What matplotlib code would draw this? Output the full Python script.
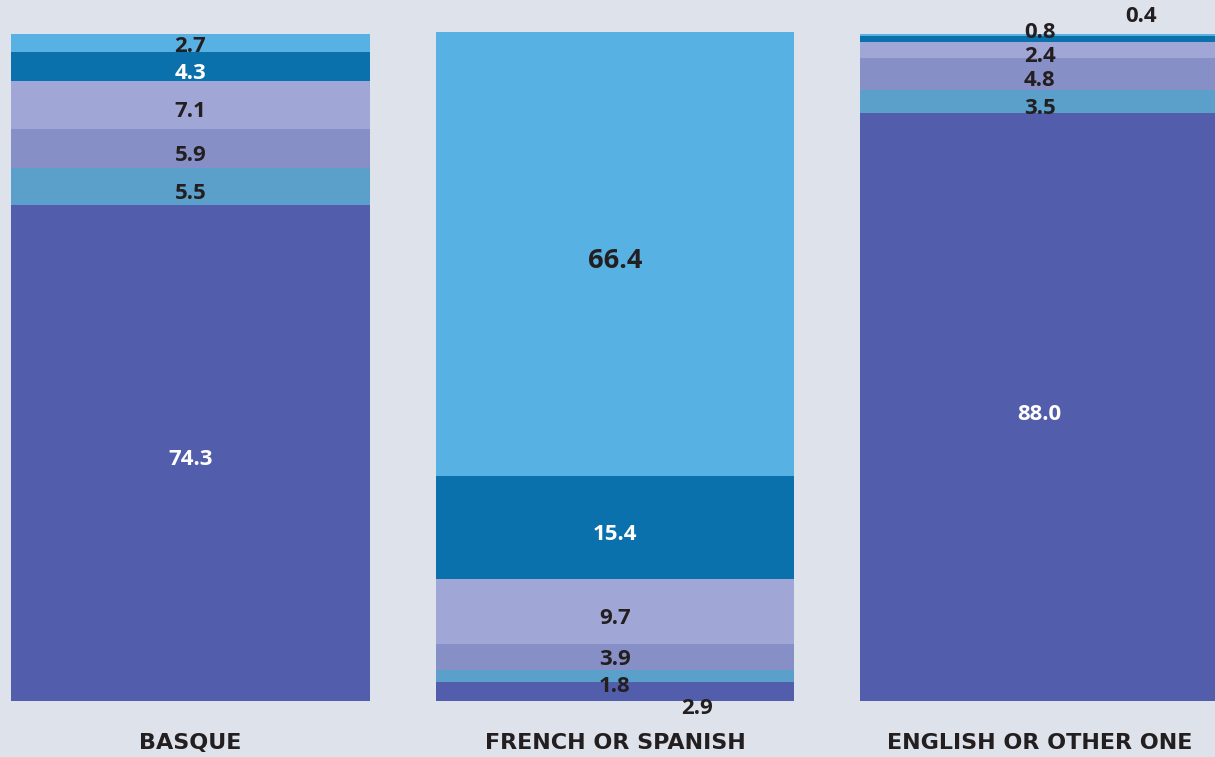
import numpy as np
import matplotlib as mpl
mpl.use("Agg")
import matplotlib.pyplot as plt

mpl.rcParams.update({"font.family": ["Open Sans", "DejaVu Sans"], "font.weight": "bold"})

# data (bottom -> top)
groups = ["BASQUE", "FRENCH OR SPANISH", "ENGLISH OR OTHER ONE"]
seg_cols = ["#525dab", "#5ba0cb", "#868fc6", "#a0a6d5", "#0a71ad", "#58b1e3"]
basque = [74.3, 5.5, 5.9, 7.1, 4.3, 2.7]
french = [2.9, 1.8, 3.9, 9.7, 15.4, 66.4]
english = [88.0, 3.5, 4.8, 2.4, 0.8, 0.4]
labels = [["74.3", "5.5", "5.9", "7.1", "4.3", "2.7"],
          ["2.9", "1.8", "3.9", "9.7", "15.4", "66.4"],
          ["88.0", "3.5", "4.8", "2.4", "0.8", "0.4"]]
white_lab = {(0, 0), (0, 4), (1, 4), (2, 0)}
# labels pushed outside the bar / nudged: (dx, dy) in points
moved = {(1, 0): (59, -12), (2, 5): (73, 13), (2, 4): (0, 5), (0, 5): (0, -2),
         (2, 3): (0, -5), (1, 1): (0, -8), (1, 2): (0, -2)}
big = {(1, 5)}

BG = "#dee2ea"
fig = plt.figure(figsize=(12.15, 7.57), dpi=100, facecolor=BG)
ax = fig.add_axes([0, 0, 1, 1])
ax.set_facecolor(BG)
ax.axis("off")

data = np.array([basque, french, english])
x = np.arange(3)
bottom = np.zeros(3)
for j in range(data.shape[1]):
    ax.bar(x, data[:, j], 0.845, bottom=bottom, color=seg_cols[j], lw=0)
    for i in range(3):
        yc = bottom[i] + data[i, j] / 2
        dx, dy = moved.get((i, j), (0, -5))
        ax.annotate(labels[i][j], (x[i], yc), xytext=(dx, dy), textcoords="offset points",
                    ha="center", va="center", fontsize=19.5 if (i, j) in big else 16,
                    fontweight="bold",
                    color="white" if (i, j) in white_lab else "#231f20")
    bottom += data[:, j]

for i, g in enumerate(groups):
    ax.text(x[i], -6.3, g, ha="center", va="center", fontsize=16, fontweight="bold",
            family="DejaVu Sans", color="#231f20")

ax.set_xlim(-0.448, 2.413)
ax.set_ylim(-8.38, 104.94)
fig.savefig("out.png", dpi=100, facecolor=BG)
